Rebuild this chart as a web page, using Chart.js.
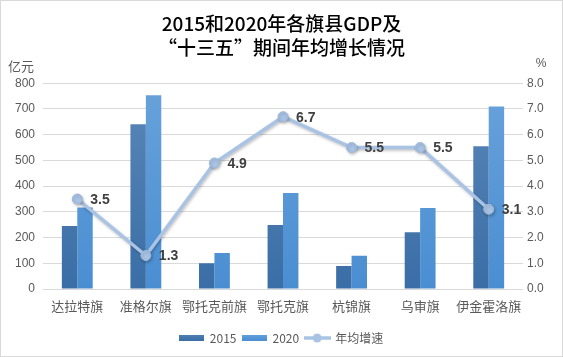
<!DOCTYPE html>
<html>
<head>
<meta charset="utf-8">
<script src="https://cdn.jsdelivr.net/npm/chart.js@4/dist/chart.umd.min.js"></script>
<style>
html,body{margin:0;padding:0;background:#fff;}
#wrap{position:absolute;left:0;top:0;width:563px;height:357px;}
</style>
</head>
<body>
<div id="wrap"><canvas id="c" width="563" height="357"></canvas></div>
<script>
const categories = ['达拉特旗','准格尔旗','鄂托克前旗','鄂托克旗','杭锦旗','乌审旗','伊金霍洛旗'];
const gdp2015 = [245, 641, 100, 249, 89, 221, 555];
const gdp2020 = [317, 753, 140, 373, 129, 315, 710];
const growth = [3.5, 1.3, 4.9, 6.7, 5.5, 5.5, 3.1];
const titleLines = ['2015和2020年各旗县GDP及', '“十三五”期间年均增长情况'];
const leftUnit = '亿元';
const rightUnit = '%';
const legendNames = ['2015', '2020', '年均增速'];

const LATIN = '"Liberation Sans", "Noto Sans CJK SC", sans-serif';
const CJK = '"Noto Sans CJK SC", "Liberation Sans", sans-serif';

function grad(ctx, top, bottom) {
  const ca = ctx.chart.chartArea;
  if (!ca) return bottom;
  const g = ctx.chart.ctx.createLinearGradient(0, ca.top, 0, ca.bottom);
  g.addColorStop(0, top);
  g.addColorStop(1, bottom);
  return g;
}

function makeRectIcon(c1, c2) {
  const cv = document.createElement('canvas');
  cv.width = 25; cv.height = 6;
  const x = cv.getContext('2d');
  const g = x.createLinearGradient(0, 0, 0, 6);
  g.addColorStop(0, c1); g.addColorStop(1, c2);
  x.fillStyle = g; x.fillRect(0, 0, 25, 6);
  return cv;
}
function makeLineIcon() {
  const cv = document.createElement('canvas');
  cv.width = 27; cv.height = 10;
  const x = cv.getContext('2d');
  x.strokeStyle = '#a9c3e5'; x.lineWidth = 3.5;
  x.beginPath(); x.moveTo(0, 5); x.lineTo(27, 5); x.stroke();
  x.fillStyle = '#a9c3e5';
  x.beginPath(); x.arc(13.5, 5, 4.5, 0, Math.PI * 2); x.fill();
  return cv;
}
const icons = [makeRectIcon('#4d7eb3', '#3a6ea6'), makeRectIcon('#5fa0dc', '#4a8ed2'), makeLineIcon()];

const extras = {
  id: 'extras',
  beforeDatasetDraw(chart, args) {
    if (args.meta.type === 'line') {
      const ctx = chart.ctx;
      ctx.save();
      ctx.shadowColor = 'rgba(0,0,0,0.25)';
      ctx.shadowBlur = 3;
      ctx.shadowOffsetX = 1;
      ctx.shadowOffsetY = 1.5;
    }
  },
  afterDatasetDraw(chart, args) {
    if (args.meta.type === 'line') chart.ctx.restore();
  },
  afterDatasetsDraw(chart) {
    const ctx = chart.ctx;
    const ca = chart.chartArea;
    ctx.save();
    const meta = chart.getDatasetMeta(0);
    ctx.font = 'bold 14px ' + LATIN;
    ctx.fillStyle = '#404040';
    ctx.textAlign = 'left';
    ctx.textBaseline = 'middle';
    meta.data.forEach((pt, i) => {
      ctx.fillText(growth[i].toFixed(1), pt.x + 13, pt.y + 1);
    });
    ctx.font = '13px ' + CJK;
    ctx.fillStyle = '#595959';
    ctx.textAlign = 'left';
    ctx.fillText(leftUnit, 8, ca.top - 17);
    ctx.font = '12px ' + LATIN;
    ctx.textAlign = 'center';
    ctx.fillText(rightUnit, 541, ca.top - 20);
    ctx.strokeStyle = '#d9d9d9';
    ctx.lineWidth = 1;
    ctx.strokeRect(0.5, 0.5, chart.width - 1, chart.height - 1);
    ctx.restore();
  }
};

new Chart(document.getElementById('c'), {
  data: {
    labels: categories,
    datasets: [
      {
        type: 'line', label: legendNames[2], data: growth, yAxisID: 'y1',
        borderColor: '#a9c3e5', backgroundColor: '#a9c3e5',
        borderWidth: 3.5, pointRadius: 5, pointBackgroundColor: '#a9c3e5',
        pointBorderColor: '#9fb9dc', pointBorderWidth: 1, tension: 0, order: 0
      },
      {
        type: 'bar', label: legendNames[0], data: gdp2015, yAxisID: 'y',
        backgroundColor: (c) => grad(c, '#5a87b8', '#3a6ea6'),
        barPercentage: 1, categoryPercentage: 0.45, order: 1
      },
      {
        type: 'bar', label: legendNames[1], data: gdp2020, yAxisID: 'y',
        backgroundColor: (c) => grad(c, '#68a2da', '#4a8ed2'),
        barPercentage: 1, categoryPercentage: 0.45, order: 1
      }
    ]
  },
  options: {
    responsive: false,
    animation: false,
    layout: { padding: { left: 0, right: 0, top: 0, bottom: 3 } },
    plugins: {
      tooltip: { enabled: false },
      title: {
        display: true, text: titleLines, color: '#000',
        font: { family: CJK, size: 19, weight: 500, lineHeight: 1.27 },
        padding: { top: 12, bottom: 23 }
      },
      legend: {
        position: 'bottom',
        labels: {
          usePointStyle: true, pointStyleWidth: 24, boxHeight: 12,
          padding: 6, color: '#595959',
          font: { family: CJK, size: 12 },
          generateLabels: (chart) => [1, 2, 0].map((di, k) => ({
            text: legendNames[k], datasetIndex: di, pointStyle: icons[k],
            fillStyle: 'transparent', strokeStyle: 'transparent', lineWidth: 0,
            hidden: false, fontColor: '#595959'
          }))
        }
      }
    },
    scales: {
      x: {
        grid: { display: false, drawTicks: false },
        border: { display: false },
        ticks: { color: '#595959', font: { family: CJK, size: 13 }, padding: 9, maxRotation: 0, autoSkip: false },
        afterFit: (s) => { s.height = 37; }
      },
      y: {
        position: 'left', min: 0, max: 800,
        grid: { color: '#d9d9d9', drawTicks: false },
        border: { display: false },
        ticks: { stepSize: 100, color: '#595959', font: { family: LATIN, size: 12 }, padding: 8 },
        afterFit: (s) => { s.width = 43; }
      },
      y1: {
        position: 'right', min: 0, max: 8,
        grid: { display: false, drawTicks: false },
        border: { display: false },
        ticks: { stepSize: 1, color: '#595959', font: { family: LATIN, size: 12 }, padding: 4,
                 callback: (v) => Number(v).toFixed(1) },
        afterFit: (s) => { s.width = 40; }
      }
    }
  },
  plugins: [extras]
});
</script>
</body>
</html>
